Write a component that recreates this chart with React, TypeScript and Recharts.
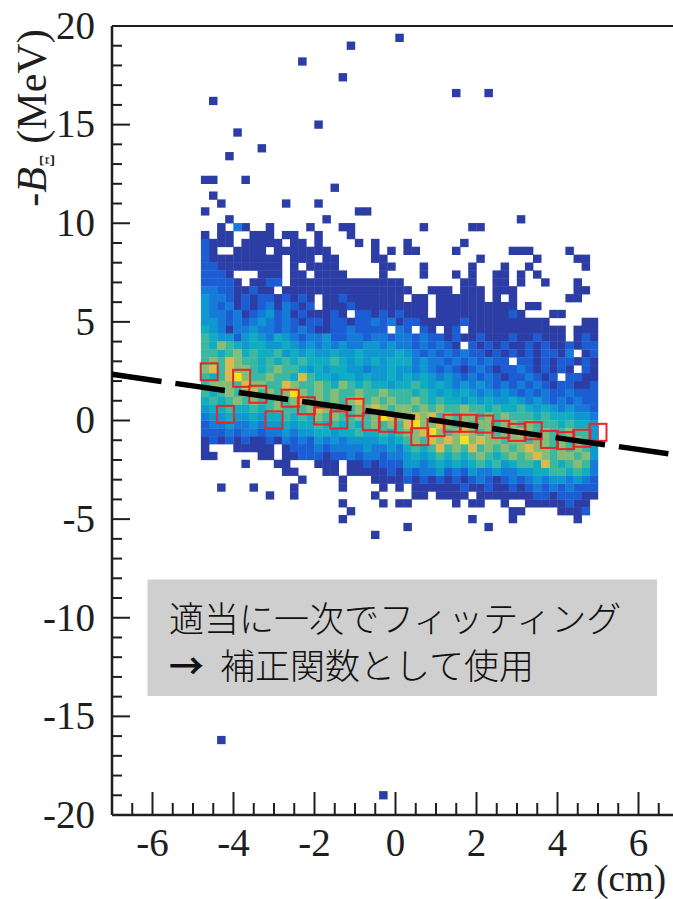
import React from "react";
import {
  ComposedChart,
  Scatter,
  XAxis,
  YAxis,
  ReferenceLine,
  ErrorBar,
} from "recharts";

// 2D histogram, z in 0.2 cm bins from -4.8, -B in 0.4 MeV bins
const binZ0 = -4.8;
const binDZ = 0.2;
const binDB = 0.4;
const topRow = 27; // first row string is the bin [10.8, 11.2]
const westCols = 25;

// one char per z bin, '.' = empty, 1..9 = colour level (navy -> yellow)
// west half: z bins -4.8 .. 0.2
const heatWest = [
  "..1.......1...1..........",
  "1..................11....",
  "...1...........1.........",
  "..1.31..1....1...11......",
  "1.11..111.11..1...1......",
  "2111.11111.11.1....1.1...",
  "21..1111.1111111.....1.1.",
  "2111111111.111.11....11..",
  "2211111111.1.1111.....11.",
  "2221...111.11.1111....1..",
  "22221.1122.11111111111111",
  "332211211.111111111111111",
  "43321212212121.1121111111",
  "43231212313212.1112111111",
  "433231234231211121.221212",
  "4432323432321221221223231",
  "54313343323232112232222.3",
  "6544245435432334223323323",
  "6576545544543434343344343",
  "6656756556454544544544445",
  "6768766565656555654545455",
  "7868776567665454554434454",
  "6568976676658655455454454",
  "6777687766876676576565545",
  "6567678676797676766766766",
  "5656767667678676767867676",
  "4556556567666787676778767",
  "3445445455656576766767987",
  "2334334344545565656567676",
  "2223233233434455455655656",
  "1212121121323243434444545",
  "1...11111.122232333343343",
  "11.....11.112221223233233",
  ".....1...11...111.1121222",
  "..........11...11.1111121",
  "............1....1...1111",
  "..1...1....1.....1....1.1",
  "........1..1.........1...",
  ".................1....1.1",
  "..................1......",
  ".................1.......",
  "",
  ".....................1...",
];

// east half: z bins 0.2 .. 5.0
const heatEast = [
  "",
  "",
  "..............1",
  "..1.....11",
  "",
  "1......1",
  "11....1......111....1",
  ".........1......1....11",
  "..1.....1...1..1......1",
  "..1...1.1..11.1.1",
  ".......11..11.1..1...1",
  "1..111.111.111.......11",
  ".11.111111.1.1......11",
  "111.1111111111.11",
  "111.111111111" + "21...11",
  "221111121111111111....11",
  "2.21.12.111111111111.111",
  "32322121121112112111.121",
  "3232321.2121211212112122",
  "432323232212121212213.12",
  "5343323232322.2212122121",
  "434323212321223212121.21",
  "5454343232321223212.2211",
  "565454343432323232122112",
  "656545454343432323223222",
  "676565545454454343232322",
  "767676676656556545434332",
  "787867677676766656555443",
  "897787676776776766656554",
  "778976787676778767667664",
  "676878797877677677676764",
  "565686768676767877676764",
  "454565656765676787677674",
  "443454545656456658656763",
  "323342324334334455665653",
  "212121212321232343443432",
  ".11111121121121232323222",
  ".11.1111.111111122122211",
  "1.....1.11..1..11111211.",
  ".............11....1112.",
  "........1....1.......1..",
  "1.........1.............",
  "",
];

// isolated single-count bins outside the main body (bin centres)
const sparseZ = [0.1, -1.1, -2.3, -1.3, 1.5, 2.3, -4.5, -1.9, -3.9, -3.3, -4.1, -4.7, -4.5, -3.7, -1.5, -4.5, -4.3, -0.3];
const sparseB = [19.4, 19.0, 18.2, 17.4, 16.6, 16.6, 16.2, 15.0, 14.6, 13.8, 13.4, 12.2, 12.2, 12.2, 11.8, 11.4, -16.2, -19.0];

const levelColors = [
  "#2c3ea6",
  "#1d5dd4",
  "#167ad9",
  "#0f97cf",
  "#10adc2",
  "#3bb7a2",
  "#85bd76",
  "#dcb94c",
  "#f6df1f",
];

// profile points (red boxes)
const profZ = [-4.6, -4.2, -3.8, -3.4, -3.0, -2.6, -2.2, -1.8, -1.4, -1.0, -0.6, -0.2, 0.2, 0.6, 1.0, 1.4, 1.8, 2.2, 2.6, 3.0, 3.4, 3.8, 4.2, 4.6, 5.0];
const profB = [2.47, 0.31, 2.14, 1.33, 0.03, 1.13, 0.75, 0.23, 0.03, 0.67, -0.06, -0.14, -0.18, -0.82, -0.36, -0.14, -0.14, -0.18, -0.45, -0.6, -0.52, -0.96, -1.02, -0.9, -0.6];
const profErr = [0.5, 0.8, 0.5, 0.5, 0.8, 0.5, 0.5, 0.5, 0.5, 0.45, 0.45, 0.45, 0.45, 0.45, 0.45, 0.45, 0.45, 0.45, 0.45, 0.45, 0.45, 0.45, 0.45, 0.45, 0.45];

// linear fit
const fitZ = [-7, 7];
const fitB = [2.34, -1.76];

const zTicks = [-7, -6.5, -6, -5.5, -5, -4.5, -4, -3.5, -3, -2.5, -2, -1.5, -1, -0.5, 0, 0.5, 1, 1.5, 2, 2.5, 3, 3.5, 4, 4.5, 5, 5.5, 6, 6.5, 7];
const bTicks = [-20, -19, -18, -17, -16, -15, -14, -13, -12, -11, -10, -9, -8, -7, -6, -5, -4, -3, -2, -1, 0, 1, 2, 3, 4, 5, 6, 7, 8, 9, 10, 11, 12, 13, 14, 15, 16, 17, 18, 19, 20];

const W = 700;
const H = 899;
const margin = { top: 26, right: 21, bottom: 0, left: 0 };
const yAxisW = 112;
const xAxisH = 84;
const plotW = W - margin.left - margin.right - yAxisW;
const plotH = H - margin.top - margin.bottom - xAxisH;
const cellW = (binDZ * plotW) / 14;
const cellH = (binDB * plotH) / 40;

const serif = "Liberation Serif, Times New Roman, DejaVu Serif, serif";
const ink = "#1e1e1e";

type Pt = { z: number; b: number; err?: number };

const cellsByLevel: Pt[][] = levelColors.map(() => []);
heatWest.forEach((w, i) => {
  const row = w.padEnd(westCols, ".") + heatEast[i];
  const b = (topRow - i) * binDB + binDB / 2;
  row.split("").forEach((ch, k) => {
    if (ch === ".") return;
    cellsByLevel[Number(ch) - 1].push({ z: binZ0 + (k + 0.5) * binDZ, b });
  });
});
sparseZ.forEach((z, i) => cellsByLevel[0].push({ z, b: sparseB[i] }));

const profData: Pt[] = profZ.map((z, i) => ({ z, b: profB[i], err: profErr[i] }));
const fitData: Pt[] = fitZ.map((z, i) => ({ z, b: fitB[i] }));

const HeatCell = (p: any) => (
  <rect
    x={p.cx - cellW / 2 - 0.2}
    y={p.cy - cellH / 2 - 0.2}
    width={cellW + 0.4}
    height={cellH + 0.4}
    fill={p.fill}
  />
);

const ProfileBox = (p: any) => (
  <rect x={p.cx - 8.5} y={p.cy - 8.5} width={17} height={17} fill="none" stroke="#e5262a" strokeWidth={2} />
);

const NoDot = () => <g />;

const ZTick = ({ x, y, payload }: any) => {
  const v = payload.value;
  const major = v % 2 === 0;
  return (
    <g>
      <line x1={x} y1={y} x2={x} y2={y - (major ? 23 : 12)} stroke={ink} strokeWidth={2} />
      {major && (
        <text x={x} y={y + 41} textAnchor="middle" style={{ fontFamily: serif, fontSize: 39 }} fill={ink}>
          {v}
        </text>
      )}
    </g>
  );
};

const BTick = ({ x, y, payload }: any) => {
  const v = payload.value;
  const major = v % 5 === 0;
  return (
    <g>
      <line x1={x} y1={y} x2={x + (major ? 18 : 10)} y2={y} stroke={ink} strokeWidth={2} />
      {major && (
        <text x={x - 17} y={y} dy="0.33em" textAnchor="end" style={{ fontFamily: serif, fontSize: 39 }} fill={ink}>
          {v}
        </text>
      )}
    </g>
  );
};

const ZTitle = () => (
  <text x={666} y={891} textAnchor="end" style={{ fontFamily: serif, fontSize: 37 }} fill={ink}>
    <tspan style={{ fontStyle: "italic" }}>z</tspan> (cm)
  </text>
);

const BTitle = () => (
  <text
    transform="translate(46,118) rotate(-90)"
    textAnchor="middle"
    style={{ fontFamily: serif, fontSize: 42 }}
    fill={ink}
  >
    -<tspan style={{ fontStyle: "italic" }}>B</tspan>
    <tspan style={{ fontSize: 20 }} dy={8}>Ξ</tspan>
    <tspan dy={-8}> (MeV)</tspan>
  </text>
);

export default function App() {
  return (
    <div
      style={{
        position: "fixed",
        left: 0,
        top: 0,
        width: 673,
        height: 899,
        overflow: "hidden",
        background: "#fff",
      }}
    >
      <ComposedChart width={W} height={H} margin={margin}>
        <XAxis
          dataKey="z"
          type="number"
          domain={[-7, 7]}
          ticks={zTicks}
          interval={0}
          height={xAxisH}
          tickSize={0}
          tickMargin={0}
          tickLine={false}
          tick={<ZTick />}
          axisLine={{ stroke: ink, strokeWidth: 2.5 }}
          label={ZTitle}
        />
        <YAxis
          type="number"
          domain={[-20, 20]}
          ticks={bTicks}
          interval={0}
          width={yAxisW}
          tickSize={0}
          tickMargin={0}
          tickLine={false}
          tick={<BTick />}
          axisLine={{ stroke: ink, strokeWidth: 2.5 }}
          label={BTitle}
        />
        <ReferenceLine y={20} stroke={ink} strokeWidth={2} />
        <ReferenceLine x={7} stroke={ink} strokeWidth={2} />
        {cellsByLevel.map((cells, i) => (
          <Scatter
            key={i}
            data={cells}
            dataKey="b"
            fill={levelColors[i]}
            shape={HeatCell}
            isAnimationActive={false}
          />
        ))}
        <Scatter data={profData} dataKey="b" shape={ProfileBox} isAnimationActive={false}>
          <ErrorBar dataKey="err" direction="y" width={0} stroke="#e5262a" strokeWidth={1.5} />
        </Scatter>
        <Scatter
          data={fitData}
          dataKey="b"
          shape={NoDot}
          line={{ stroke: "#000", strokeWidth: 5.5, strokeDasharray: "50 14" }}
          isAnimationActive={false}
        />
      </ComposedChart>
      <svg
        width={673}
        height={899}
        style={{ position: "absolute", left: 0, top: 0, pointerEvents: "none" }}
      >
        <rect x={147.5} y={579.5} width={509.5} height={116.5} fill="#cfcfcf" />
        <text x={169} y={632} style={{ fontFamily: "Noto Sans CJK JP, sans-serif", fontSize: 35, fontWeight: 300 }} fill="#111">
          適当に一次でフィッティング
        </text>
        <text x={169} y={679} style={{ fontFamily: "Noto Sans CJK JP, sans-serif", fontSize: 35, fontWeight: 300 }} fill="#111">
          <tspan style={{ fontWeight: 700 }}>→</tspan>
          <tspan x={220}>補正関数として使用</tspan>
        </text>
      </svg>
    </div>
  );
}
